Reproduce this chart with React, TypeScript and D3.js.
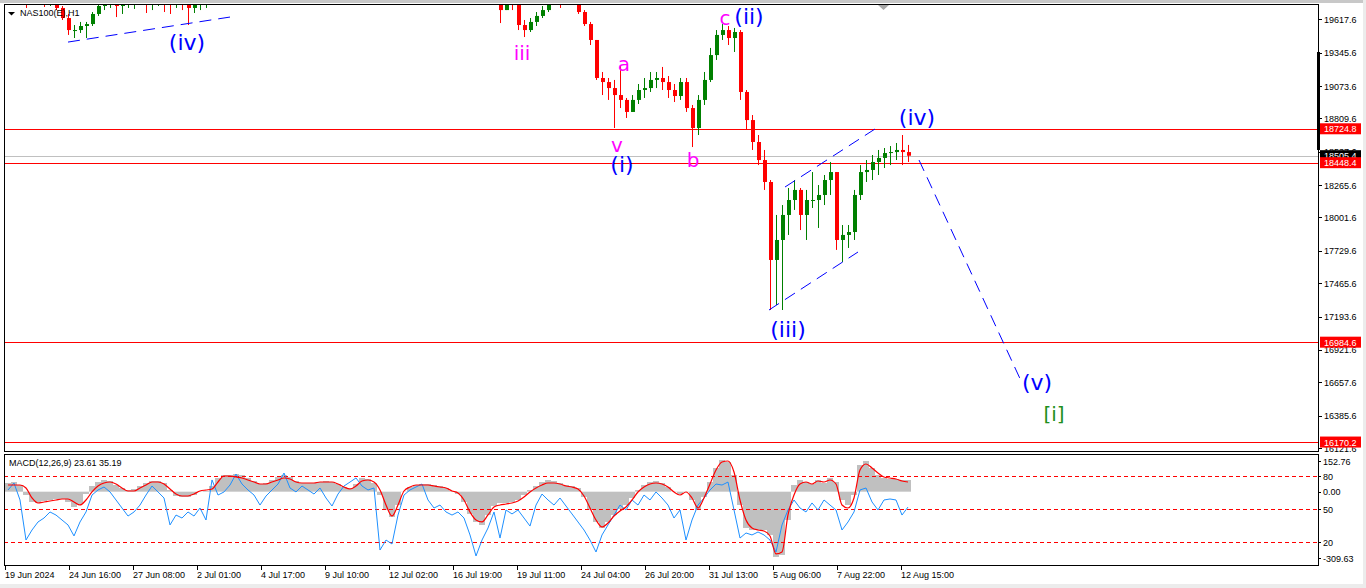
import React, { useEffect, useRef } from 'react'
import * as d3 from 'd3'

const W = 1366
const H = 588

// H1 candles grouped by 6 hours (prices)
const highs = [
  20101, 20142, 20101, 19857, 19840, 19897, 19873, 19816, 19791, 19726,
  19661, 19571, 19596, 19596, 19677, 19742, 19816, 19824, 19808, 19791,
  19840, 19857, 19897, 19873, 19857, 19873, 19857, 19840, 19857, 19824,
  19791, 19808, 19857, 19873, 19938, 20020, 20101, 20142, 20224, 20224,
  20183, 20183, 20118, 20142, 20224, 20305, 20387, 20387, 20411, 20444,
  20468, 20468, 20444, 20411, 20427, 20509, 20574, 20631, 20688, 20688,
  20672, 20631, 20574, 20264, 20248, 20305, 20362, 20387, 20411, 20444,
  20468, 20427, 20387, 20346, 20281, 20305, 20248, 20142, 20020, 19938,
  19938, 19954, 19759, 19840, 19816, 19734, 19612, 19628, 19677, 19726,
  19791, 19857, 19808, 19873, 19857, 19808, 19693, 19596, 19449, 19188,
  19139, 19123, 19237, 18976, 19000, 19090, 19139, 19188, 19188, 19229,
  19155, 19090, 19139, 19139, 18919, 19000, 19188, 19384, 19530, 19579,
  19563, 19547, 19530, 19041, 18837, 18674, 18552, 18307, 18022, 18103,
  18242, 18307, 18242, 18226, 18372, 18266, 18348, 18454, 18372, 17940,
  17940, 18226, 18429, 18470, 18511, 18552, 18568, 18584, 18609, 18674,
  18593,
]
const lows = [
  19897, 19938, 19759, 19710, 19759, 19775, 19718, 19726, 19693, 19612,
  19490, 19465, 19506, 19465, 19563, 19645, 19693, 19710, 19636, 19661,
  19710, 19702, 19742, 19669, 19693, 19726, 19677, 19661, 19710, 19693,
  19571, 19669, 19693, 19710, 19791, 19897, 19954, 20020, 20060, 20085,
  20060, 20020, 19979, 20003, 20060, 20142, 20224, 20248, 20264, 20281,
  20305, 20330, 20281, 20264, 20248, 20330, 20427, 20468, 20550, 20558,
  20525, 20468, 20183, 20101, 20085, 20142, 20224, 20248, 20264, 20305,
  20330, 20281, 20224, 20166, 20142, 20142, 20060, 19938, 19816, 19775,
  19791, 19816, 19587, 19726, 19693, 19530, 19473, 19514, 19563, 19628,
  19677, 19742, 19710, 19742, 19751, 19661, 19563, 19408, 19123, 19000,
  18960, 18731, 18894, 18813, 18862, 18927, 18976, 19025, 19057, 19041,
  18976, 18943, 18960, 18862, 18576, 18674, 18919, 19106, 19286, 19449,
  19408, 19351, 18960, 18715, 18552, 18429, 18226, 17247, 17288, 17247,
  17859, 18063, 17899, 17818, 18079, 17916, 18103, 18185, 17737, 17638,
  17753, 17818, 18144, 18291, 18307, 18348, 18405, 18429, 18470, 18429,
  18454,
]
const closes = [
  19979, 20060, 19816, 19775, 19816, 19857, 19759, 19775, 19710, 19628,
  19530, 19530, 19563, 19579, 19661, 19726, 19759, 19791, 19726, 19742,
  19791, 19808, 19840, 19775, 19808, 19824, 19759, 19742, 19791, 19775,
  19710, 19759, 19808, 19824, 19897, 19979, 20060, 20101, 20183, 20142,
  20118, 20085, 20020, 20101, 20183, 20264, 20346, 20305, 20346, 20387,
  20411, 20387, 20346, 20305, 20362, 20468, 20525, 20591, 20656, 20623,
  20591, 20550, 20224, 20183, 20199, 20264, 20305, 20330, 20362, 20411,
  20362, 20346, 20281, 20224, 20248, 20183, 20101, 19979, 19873, 19840,
  19873, 19857, 19693, 19791, 19734, 19571, 19530, 19596, 19645, 19693,
  19759, 19808, 19759, 19824, 19791, 19677, 19579, 19449, 19139, 19106,
  19057, 19000, 18960, 18862, 18960, 19041, 19057, 19123, 19139, 19106,
  19041, 18992, 19106, 18894, 18731, 18960, 19123, 19326, 19490, 19530,
  19465, 19514, 19025, 18796, 18617, 18470, 18291, 17655, 17818, 18022,
  18144, 18226, 18022, 18144, 18144, 18185, 18307, 18372, 17818, 17859,
  17883, 18185, 18372, 18389, 18454, 18487, 18527, 18535, 18552, 18535,
  18505,
]
const firstOpen = 20020
const barHours = 6

const macdHist = [
  37.2, 41.4, 28.6, -14.2, -44.1, -48.4, -39.8, -35.6, -31.3, -31.3,
  -44.1, -65.5, -52.7, -9.9, 24.3, 41.4, 50.0, 45.7, 28.6, 15.8,
  7.2, 11.5, 24.3, 37.2, 45.7, 45.7, 37.2, 7.2, -18.4, -22.7,
  -22.7, -14.2, -1.3, 2.9, 24.3, 58.6, 71.4, 71.4, 75.7, 71.4,
  58.6, 45.7, 32.9, 37.2, 50.0, 62.8, 71.4, 62.8, 45.7, 37.2,
  37.2, 37.2, 41.4, 45.7, 41.4, 32.9, 20.0, 15.8, 32.9, 58.6,
  54.3, 37.2, -14.2, -78.3, -108.3, -56.9, -1.3, 20.0, 28.6, 32.9,
  32.9, 28.6, 24.3, 15.8, 2.9, -9.9, -44.1, -95.4, -129.7, -142.6,
  -99.7, -61.2, -48.4, -48.4, -44.1, -35.6, -14.2, 7.2, 24.3, 41.4,
  50.0, 45.7, 37.2, 28.6, 24.3, 15.8, -22.7, -78.3, -129.7, -155.4,
  -129.7, -99.7, -74.0, -56.9, -27.0, 7.2, 28.6, 41.4, 45.7, 37.2,
  20.0, -1.3, -9.9, -1.3, -35.6, -78.3, -22.7, 41.4, 101.4, 135.6,
  127.0, 71.4, -56.9, -155.4, -164.0, -164.0, -164.0, -185.3, -279.5, -270.9,
  -121.2, 28.6, 50.0, 41.4, 32.9, 50.0, 37.2, 58.6, 41.4, -35.6,
  -56.9, -14.2, 114.2, 131.3, 101.4, 71.4, 58.6, 54.3, 54.3, 50.0,
  50.0,
]
const macdSignal = [
  28.6, 28.6, 28.6, 15.8, -27.0, -48.4, -44.1, -39.8, -35.6, -31.3,
  -31.3, -44.1, -56.9, -35.6, -1.3, 24.3, 37.2, 41.4, 32.9, 15.8,
  2.9, 2.9, 15.8, 28.6, 41.4, 41.4, 32.9, 11.5, -9.9, -18.4,
  -18.4, -9.9, 2.9, 7.2, 11.5, 41.4, 67.1, 67.1, 62.8, 58.6,
  50.0, 41.4, 32.9, 32.9, 41.4, 50.0, 58.6, 54.3, 41.4, 37.2,
  37.2, 37.2, 41.4, 41.4, 41.4, 32.9, 20.0, 11.5, 24.3, 45.7,
  50.0, 41.4, 7.2, -56.9, -104.0, -56.9, 2.9, 20.0, 28.6, 28.6,
  28.6, 24.3, 20.0, 15.8, 2.9, -5.6, -35.6, -86.9, -121.2, -129.7,
  -99.7, -65.5, -56.9, -52.7, -48.4, -39.8, -22.7, -1.3, 15.8, 28.6,
  37.2, 37.2, 32.9, 24.3, 20.0, 11.5, -18.4, -69.8, -121.2, -151.1,
  -134.0, -104.0, -82.6, -65.5, -35.6, -1.3, 20.0, 32.9, 37.2, 32.9,
  20.0, -1.3, -14.2, -1.3, -27.0, -69.8, -27.0, 32.9, 92.8, 127.0,
  131.3, 84.2, -35.6, -121.2, -155.4, -164.0, -168.2, -189.6, -266.6, -258.1,
  -99.7, -14.2, 32.9, 41.4, 32.9, 45.7, 41.4, 50.0, 32.9, -56.9,
  -69.8, -27.0, 92.8, 118.5, 101.4, 79.9, 62.8, 58.6, 54.3, 45.7,
  41.4,
]
// blue oscillator drawn on the 0..100 level scale
const oscLine = [
  67.3, 73.6, 58.2, 21.8, 30.9, 38.2, 41.8, 47.3, 44.5, 40.0,
  35.5, 25.5, 38.2, 47.3, 62.7, 67.3, 70.0, 65.5, 58.2, 50.9,
  43.6, 47.3, 53.6, 62.7, 70.9, 65.5, 60.0, 35.5, 44.5, 41.8,
  47.3, 43.6, 50.9, 40.0, 76.4, 62.7, 65.5, 71.8, 81.8, 72.7,
  67.3, 62.7, 53.6, 61.8, 67.3, 72.7, 82.7, 69.1, 65.5, 70.9,
  67.3, 63.6, 69.1, 60.0, 52.7, 63.6, 70.9, 74.5, 78.2, 70.9,
  67.3, 69.1, 12.7, 21.8, 18.2, 44.5, 62.7, 67.3, 70.0, 72.7,
  58.2, 50.9, 53.6, 47.3, 44.5, 47.3, 41.8, 26.4, 7.3, 21.8,
  32.7, 47.3, 23.6, 49.1, 45.5, 49.1, 41.8, 34.5, 53.6, 63.6,
  58.2, 53.6, 60.0, 52.7, 45.5, 38.2, 30.9, 21.8, 10.9, 26.4,
  35.5, 44.5, 53.6, 49.1, 58.2, 53.6, 62.7, 58.2, 65.5, 60.0,
  53.6, 41.8, 49.1, 21.8, 40.0, 53.6, 60.0, 67.3, 72.7, 71.8,
  74.5, 49.1, 23.6, 28.2, 26.4, 29.1, 26.4, 21.8, 10.9, 35.5,
  49.1, 58.2, 50.9, 47.3, 55.5, 49.1, 58.2, 53.6, 49.1, 30.9,
  38.2, 47.3, 67.3, 69.1, 56.4, 49.1, 58.2, 59.1, 58.2, 44.5,
  51.8,
]

const priceTicks = [
  '19617.6', '19345.6', '19073.6', '18809.6', '18537.6', '18265.6', '18001.6',
  '17729.6', '17465.6', '17193.6', '16921.6', '16657.6', '16385.6', '16121.6',
]
const dateTicks = [
  '19 Jun 2024', '24 Jun 16:00', '27 Jun 08:00', '2 Jul 01:00', '4 Jul 17:00',
  '9 Jul 10:00', '12 Jul 02:00', '16 Jul 19:00', '19 Jul 11:00', '24 Jul 04:00',
  '26 Jul 20:00', '31 Jul 13:00', '5 Aug 06:00', '7 Aug 22:00', '12 Aug 15:00',
]
const dateStepHours = 64
const levelLines = [18724.8, 18448.4, 16984.6, 16170.2]
const bidPrice = 18505.4
const oscLevels = [80, 50, 20]
const macdRange = [-309.63, 152.76]

const BLUE = '#0000ff'
const MAGENTA = '#ff00ff'
const GREEN = '#1f8f1f'

// wave annotations, anchored at [hour, price]
const waveLabels = [
  { text: '(iv)', hour: 182, price: 19367, color: BLUE, size: 22 },
  { text: 'iii', hour: 517, price: 19286, color: MAGENTA, size: 20 },
  { text: 'a', hour: 619, price: 19196, color: MAGENTA, size: 20 },
  { text: 'v', hour: 612, price: 18535, color: MAGENTA, size: 20 },
  { text: '(i)', hour: 617, price: 18372, color: BLUE, size: 22 },
  { text: 'b', hour: 688, price: 18413, color: MAGENTA, size: 20 },
  { text: 'c', hour: 720, price: 19571, color: MAGENTA, size: 20 },
  { text: '(ii)', hour: 744, price: 19579, color: BLUE, size: 22 },
  { text: '(iii)', hour: 783, price: 17027, color: BLUE, size: 22 },
  { text: '(iv)', hour: 912, price: 18756, color: BLUE, size: 22 },
  { text: '(v)', hour: 1032, price: 16595, color: BLUE, size: 22 },
  { text: '[i]', hour: 1049, price: 16342, color: GREEN, size: 20 },
]

// dashed wave lines [hour, price] -> [hour, price]
const waveLines: [number, number, number, number][] = [
  [63, 19432, 225, 19636],
  [780, 18250, 870, 18723],
  [764, 17247, 853, 17720],
  [914, 18470, 1017, 16652],
]

const App: React.FC = () => {
  const svgRef = useRef<SVGSVGElement>(null)

  useEffect(() => {
    if (!svgRef.current) return
    const svg = d3.select(svgRef.current)
    svg.selectAll('*').remove()

    const left = 4, right = 1318, top = 4, mainBottom = 451
    const subTop = 454, subBottom = 565
    const axisFont = '"Liberation Sans", Arial, sans-serif'
    const waveFont = '"DejaVu Sans", Verdana, sans-serif'

    const x = d3.scaleLinear().domain([0, right - 5]).range([5, right])
    const y = d3.scaleLinear().domain([19742.4, 16097.2]).range([top, mainBottom])
    const yMacd = d3.scaleLinear().domain(macdRange).range([564, 456])
    const yOsc = d3.scaleLinear().domain([0, 100]).range([564, 454])

    svg.append('rect').attr('width', W).attr('height', H).attr('fill', '#ffffff')
    svg.append('rect').attr('width', W).attr('height', 3).attr('fill', '#c8c8c8')
    svg.append('rect').attr('x', 1363).attr('width', 3).attr('height', H).attr('fill', '#ececec')
    svg.append('rect').attr('y', 584).attr('width', W).attr('height', 4).attr('fill', '#ececec')

    const defs = svg.append('defs')
    defs.append('clipPath').attr('id', 'mainClip').append('rect')
      .attr('x', left + 1).attr('y', top + 1).attr('width', right - left - 1).attr('height', mainBottom - top - 1)
    defs.append('clipPath').attr('id', 'subClip').append('rect')
      .attr('x', left + 1).attr('y', subTop + 1).attr('width', right - left - 1).attr('height', subBottom - subTop - 1)

    // ---- main panel ----
    const main = svg.append('g').attr('clip-path', 'url(#mainClip)')

    main.append('line')
      .attr('x1', left).attr('x2', right)
      .attr('y1', Math.round(y(bidPrice)) + 0.5).attr('y2', Math.round(y(bidPrice)) + 0.5)
      .attr('stroke', '#c0c0c0')

    main.selectAll('line.level')
      .data(levelLines)
      .join('line')
      .attr('class', 'level')
      .attr('x1', left).attr('x2', right)
      .attr('y1', d => Math.round(y(d)) + 0.5).attr('y2', d => Math.round(y(d)) + 0.5)
      .attr('stroke', '#ff0000')

    const bars = closes.map((c, i) => ({
      hour: i * barHours + barHours / 2,
      open: i ? closes[i - 1] : firstOpen,
      high: highs[i],
      low: lows[i],
      close: c,
    }))

    const candle = main.selectAll('g.candle')
      .data(bars)
      .join('g')
      .attr('class', 'candle')
    candle.append('line')
      .attr('x1', d => Math.round(x(d.hour)) + 0.5)
      .attr('x2', d => Math.round(x(d.hour)) + 0.5)
      .attr('y1', d => y(Math.max(d.high, d.open, d.close)))
      .attr('y2', d => y(Math.min(d.low, d.open, d.close)))
      .attr('stroke', d => (d.close >= d.open ? '#008000' : '#ff0000'))
    candle.append('rect')
      .attr('x', d => Math.round(x(d.hour)) - 1)
      .attr('width', 4)
      .attr('y', d => y(Math.max(d.open, d.close)))
      .attr('height', d => Math.max(1, Math.abs(y(d.open) - y(d.close))))
      .attr('fill', d => (d.close >= d.open ? '#008000' : '#ff0000'))

    main.selectAll('line.wave')
      .data(waveLines)
      .join('line')
      .attr('class', 'wave')
      .attr('x1', d => x(d[0])).attr('y1', d => y(d[1]))
      .attr('x2', d => x(d[2])).attr('y2', d => y(d[3]))
      .attr('stroke', BLUE)
      .attr('stroke-width', 1)
      .attr('stroke-dasharray', '12,7')

    main.selectAll('text.wave')
      .data(waveLabels)
      .join('text')
      .attr('class', 'wave')
      .attr('x', d => x(d.hour))
      .attr('y', d => y(d.price))
      .attr('text-anchor', 'middle')
      .attr('fill', d => d.color)
      .style('font-family', waveFont)
      .style('font-size', d => `${d.size}px`)
      .text(d => d.text)

    // symbol caption
    svg.append('path').attr('d', 'M8,12 L15,12 L11.5,15.5 Z').attr('fill', '#000')
    svg.append('text')
      .attr('x', 20).attr('y', 16)
      .attr('fill', '#000')
      .style('font-family', axisFont).style('font-size', '9px')
      .text('NAS100(E),H1')

    // shift marker
    svg.append('path').attr('d', 'M878,5 L889,5 L883.5,10 Z').attr('fill', '#a8a8a8')

    // frames
    svg.append('rect')
      .attr('x', left + 0.5).attr('y', top + 0.5)
      .attr('width', right - left).attr('height', mainBottom - top)
      .attr('fill', 'none').attr('stroke', '#000')
    svg.append('rect')
      .attr('x', left + 0.5).attr('y', subTop + 0.5)
      .attr('width', right - left).attr('height', subBottom - subTop)
      .attr('fill', 'none').attr('stroke', '#000')

    // price axis
    const pAxis = svg.append('g')
    pAxis.selectAll('line')
      .data(priceTicks)
      .join('line')
      .attr('x1', right).attr('x2', right + 4)
      .attr('y1', d => Math.round(y(+d)) + 0.5).attr('y2', d => Math.round(y(+d)) + 0.5)
      .attr('stroke', '#000')
    pAxis.selectAll('text')
      .data(priceTicks)
      .join('text')
      .attr('x', right + 6)
      .attr('y', d => y(+d) + 3.5)
      .attr('fill', '#000')
      .style('font-family', axisFont).style('font-size', '9px')
      .text(d => d)

    svg.append('rect')
      .attr('x', right - 1).attr('width', 3)
      .attr('y', y(19351)).attr('height', y(18552) - y(19351))
      .attr('fill', '#000')

    svg.append('rect')
      .attr('x', right + 2).attr('width', 41)
      .attr('y', y(bidPrice) - 5.5).attr('height', 11)
      .attr('fill', '#000')
    svg.append('text')
      .attr('x', right + 6).attr('y', y(bidPrice) + 3.5)
      .attr('fill', '#fff')
      .style('font-family', axisFont).style('font-size', '9px')
      .text(bidPrice.toFixed(1))

    const tags = svg.selectAll('g.tag')
      .data(levelLines)
      .join('g')
      .attr('class', 'tag')
    tags.append('rect')
      .attr('x', right + 2).attr('width', 41)
      .attr('y', d => y(d) - 5.5).attr('height', 11)
      .attr('fill', '#ff0000')
    tags.append('text')
      .attr('x', right + 6).attr('y', d => y(d) + 3.5)
      .attr('fill', '#fff')
      .style('font-family', axisFont).style('font-size', '9px')
      .text(d => d.toFixed(1))

    // ---- MACD panel ----
    const sub = svg.append('g').attr('clip-path', 'url(#subClip)')

    sub.selectAll('rect.hist')
      .data(macdHist)
      .join('rect')
      .attr('class', 'hist')
      .attr('x', (d, i) => x(i * barHours))
      .attr('width', barHours)
      .attr('y', d => Math.min(yMacd(0), yMacd(d)))
      .attr('height', d => Math.abs(yMacd(d) - yMacd(0)))
      .attr('fill', '#c0c0c0')

    sub.selectAll('line.olevel')
      .data(oscLevels)
      .join('line')
      .attr('class', 'olevel')
      .attr('x1', left).attr('x2', right)
      .attr('y1', d => Math.round(yOsc(d)) + 0.5).attr('y2', d => Math.round(yOsc(d)) + 0.5)
      .attr('stroke', '#ff0000')
      .attr('stroke-dasharray', '4,3')

    const lineAt = (scale: d3.ScaleLinear<number, number>, curve: d3.CurveFactory) =>
      d3.line<number>()
        .x((d, i) => x(i * barHours + barHours / 2))
        .y(d => scale(d))
        .curve(curve)

    sub.append('path')
      .attr('d', lineAt(yOsc, d3.curveLinear)(oscLine))
      .attr('fill', 'none')
      .attr('stroke', '#1e90ff')
      .attr('stroke-width', 1)

    sub.append('path')
      .attr('d', lineAt(yMacd, d3.curveMonotoneX)(macdSignal))
      .attr('fill', 'none')
      .attr('stroke', '#ff0000')
      .attr('stroke-width', 1.2)

    svg.append('text')
      .attr('x', 9).attr('y', 466)
      .attr('fill', '#000')
      .style('font-family', axisFont).style('font-size', '9px')
      .text('MACD(12,26,9) 23.61 35.19')

    const subLabels = [
      { t: macdRange[1].toFixed(2), y: yMacd(macdRange[1]) + 5 },
      { t: '80', y: yOsc(80) },
      { t: '0.00', y: yMacd(0) },
      { t: '50', y: yOsc(50) },
      { t: '20', y: yOsc(20) },
      { t: macdRange[0].toFixed(2), y: yMacd(macdRange[0]) - 6 },
    ]
    const sAxis = svg.append('g')
    sAxis.selectAll('line')
      .data(subLabels)
      .join('line')
      .attr('x1', right).attr('x2', right + 3)
      .attr('y1', d => Math.round(d.y) + 0.5).attr('y2', d => Math.round(d.y) + 0.5)
      .attr('stroke', '#000')
    sAxis.selectAll('text')
      .data(subLabels)
      .join('text')
      .attr('x', right + 5)
      .attr('y', d => d.y + 3.5)
      .attr('fill', '#000')
      .style('font-family', axisFont).style('font-size', '9px')
      .text(d => d.t)

    // ---- time axis ----
    const tAxis = svg.append('g')
    tAxis.selectAll('line')
      .data(dateTicks)
      .join('line')
      .attr('x1', (d, i) => Math.round(x(i * dateStepHours)) + 0.5)
      .attr('x2', (d, i) => Math.round(x(i * dateStepHours)) + 0.5)
      .attr('y1', subBottom).attr('y2', subBottom + 5)
      .attr('stroke', '#000')
    tAxis.selectAll('text')
      .data(dateTicks)
      .join('text')
      .attr('x', (d, i) => x(i * dateStepHours))
      .attr('y', 578)
      .attr('fill', '#000')
      .style('font-family', axisFont).style('font-size', '9px')
      .text(d => d)
  }, [])

  return (
    <div style={{ position: 'absolute', left: 0, top: 0, width: W, height: H, overflow: 'hidden' }}>
      <svg ref={svgRef} width={W} height={H} />
    </div>
  )
}

export default App
